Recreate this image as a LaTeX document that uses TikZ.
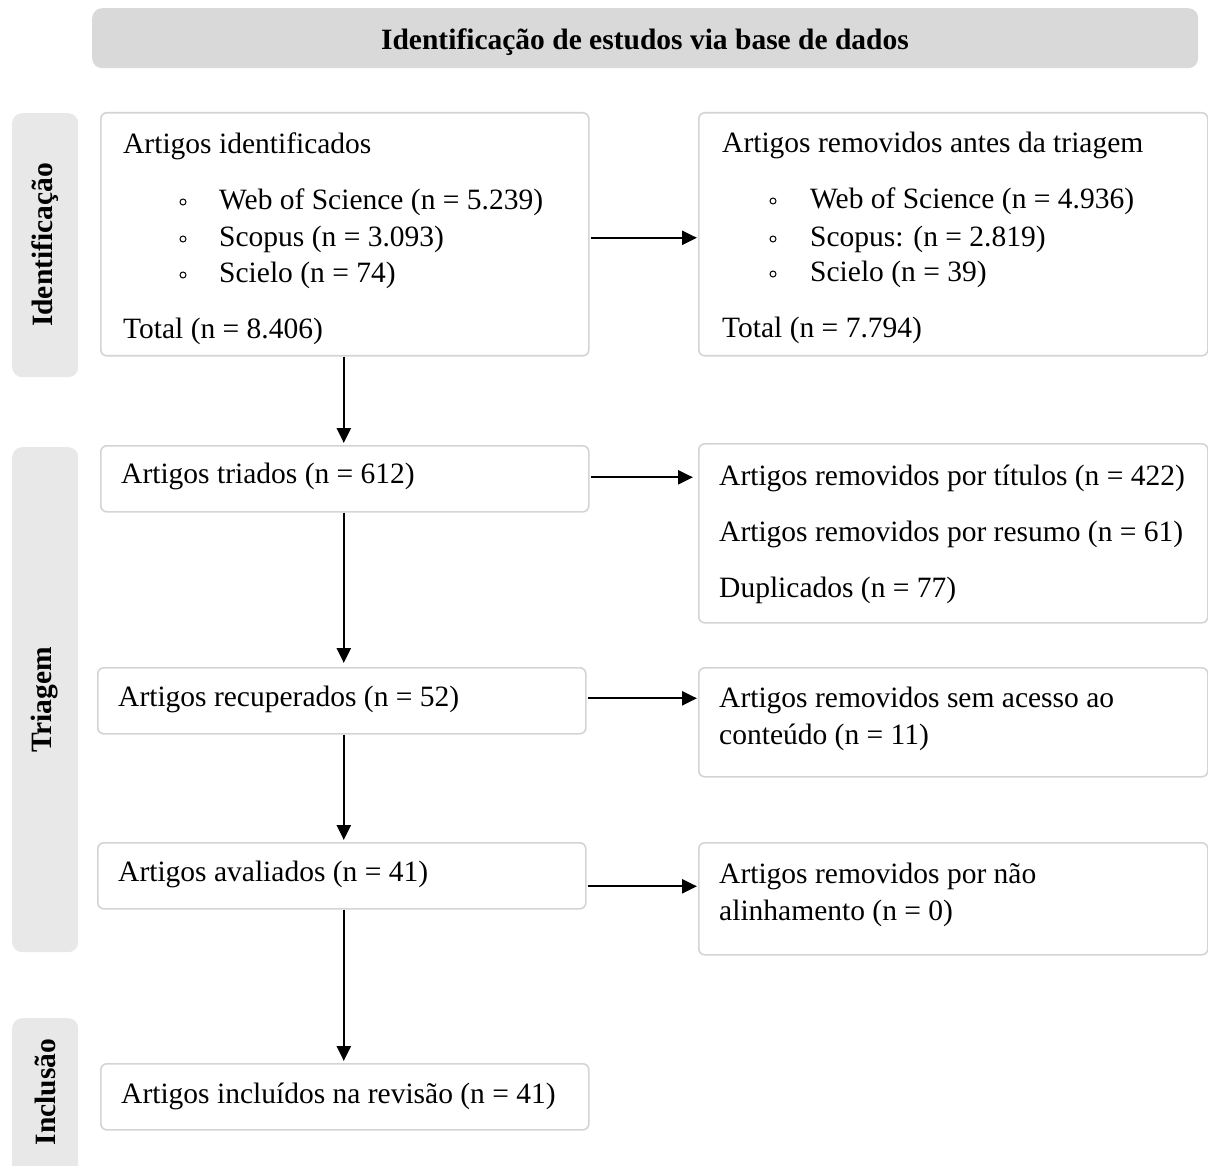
\documentclass[tikz,border=0pt]{standalone}
\usepackage{fontspec}
\setmainfont{Liberation Serif}
\usetikzlibrary{arrows.meta,calc}
\definecolor{boxline}{HTML}{D4D4D4}
\definecolor{sidefill}{HTML}{E8E8E8}
\definecolor{bannerfill}{HTML}{D9D9D9}
\begin{document}
\begin{tikzpicture}[x=1pt,y=-1pt,
  tx/.style={font=\fontsize{29.5}{36}\selectfont, inner sep=0pt, anchor=base west},
  bx/.style={draw=boxline, line width=1.6pt, rounded corners=6pt, fill=white,
    anchor=north west, inner sep=0pt},
  side/.style={fill=sidefill, rounded corners=10pt, anchor=north west, inner sep=0pt},
  sidetext/.style={font=\fontsize{29.5}{36}\selectfont\bfseries, rotate=90, inner sep=0pt},
  bul/.style={circle, draw=black, line width=1pt, minimum size=6pt, inner sep=0pt},
  arr/.style={line width=2.3pt, -{Triangle[length=15pt,width=14pt]}}]
\clip (0,0) rectangle (1208,1166);
\fill[white] (0,0) rectangle (1208,1166);
% banner
\node[side, fill=bannerfill, minimum width=1106pt, minimum height=60pt] (banner) at (92,8) {};
\node[font=\fontsize{29.5}{36}\selectfont\bfseries, inner sep=0pt, anchor=base] (bannertxt) at (645,50) {Identificação de estudos via base de dados};
% side labels
\node[side, minimum width=66pt, minimum height=264pt] (sideA) at (12,113) {};
\node[sidetext] (sideAt) at (45,245) {Identificação};
\node[side, minimum width=66pt, minimum height=505pt] (sideB) at (12,447) {};
\node[sidetext] (sideBt) at (45,700) {Triagem};
\node[side, minimum width=66pt, minimum height=180pt] (sideC) at (12,1018) {};
\node[sidetext] (sideCt) at (45,1092) {Inclusão};
% boxes
\node[bx, minimum width=488pt, minimum height=243pt] (b1) at (100,112) {};
\node[bx, minimum width=509pt, minimum height=243pt] (r1) at (698,112) {};
\node[bx, minimum width=488pt, minimum height=66pt] (b2) at (100,445) {};
\node[bx, minimum width=509pt, minimum height=179pt] (r2) at (698,443) {};
\node[bx, minimum width=488pt, minimum height=66pt] (b3) at (97,667) {};
\node[bx, minimum width=509pt, minimum height=109pt] (r3) at (698,667) {};
\node[bx, minimum width=488pt, minimum height=66pt] (b4) at (97,842) {};
\node[bx, minimum width=509pt, minimum height=112pt] (r4) at (698,842) {};
\node[bx, minimum width=488pt, minimum height=66pt] (b5) at (100,1063) {};
% texts box 1
\node[tx] (t1a) at (123,154) {Artigos identificados};
\node[bul] (u1a) at (183,202) {};
\node[tx] (t1b) at (219,210) {Web of Science (n = 5.239)};
\node[bul] (u1b) at (183,239) {};
\node[tx] (t1c) at (219,247) {Scopus (n = 3.093)};
\node[bul] (u1c) at (183,275) {};
\node[tx] (t1d) at (219,283) {Scielo (n = 74)};
\node[tx] (t1e) at (123,339) {Total (n = 8.406)};
% texts right box 1
\node[tx] (s1a) at (722,153) {Artigos removidos antes da triagem};
\node[bul] (v1a) at (773,201) {};
\node[tx] (s1b) at (810,209) {Web of Science (n = 4.936)};
\node[bul] (v1b) at (773,239) {};
\node[tx] (s1c) at (810,247) {Scopus: (n = 2.819)};
\node[bul] (v1c) at (773,274) {};
\node[tx] (s1d) at (810,282) {Scielo (n = 39)};
\node[tx] (s1e) at (722,338) {Total (n = 7.794)};
% other texts
\node[tx] (t2) at (121,483) {Artigos triados (n = 612)};
\node[tx] (s2a) at (719,485) {Artigos removidos por títulos (n = 422)};
\node[tx] (s2b) at (719,541) {Artigos removidos por resumo (n = 61)};
\node[tx] (s2c) at (719,597) {Duplicados (n = 77)};
\node[tx] (t3) at (118,706) {Artigos recuperados (n = 52)};
\node[tx] (s3a) at (719,707) {Artigos removidos sem acesso ao};
\node[tx] (s3b) at (719,744) {conteúdo (n = 11)};
\node[tx] (t4) at (118,881) {Artigos avaliados (n = 41)};
\node[tx] (s4a) at (719,883) {Artigos removidos por não};
\node[tx] (s4b) at (719,920) {alinhamento (n = 0)};
\node[tx] (t5) at (121,1103) {Artigos incluídos na revisão (n = 41)};
% vertical arrows
\draw[arr] ([xshift=-1pt]b1.south) -- ([xshift=-1pt,yshift=2pt]b1.south |- b2.north);
\draw[arr] ([xshift=-1pt]b2.south) -- ([xshift=-1pt,yshift=4pt]b2.south |- b3.north);
\draw[arr] ([xshift=-1pt]b2.south |- b3.south) -- ([xshift=-1pt,yshift=2pt]b2.south |- b4.north);
\draw[arr] ([xshift=-1pt]b2.south |- b4.south) -- ([xshift=-1pt,yshift=2pt]b2.south |- b5.north);
% horizontal arrows
\draw[arr] ([yshift=-3.5pt,xshift=1pt]b1.east) -- ([yshift=-3.5pt,xshift=-1pt]b1.east -| r1.west);
\draw[arr] ([yshift=1.5pt,xshift=1pt]b2.east) -- ([yshift=1.5pt,xshift=-5pt]b2.east -| r2.west);
\draw[arr] ([yshift=2.5pt,xshift=1pt]b3.east) -- ([yshift=2.5pt,xshift=-1pt]b3.east -| r3.west);
\draw[arr] ([yshift=-10.5pt,xshift=1pt]b4.east) -- ([yshift=-10.5pt,xshift=-1pt]b4.east -| r4.west);
\end{tikzpicture}
\end{document}
